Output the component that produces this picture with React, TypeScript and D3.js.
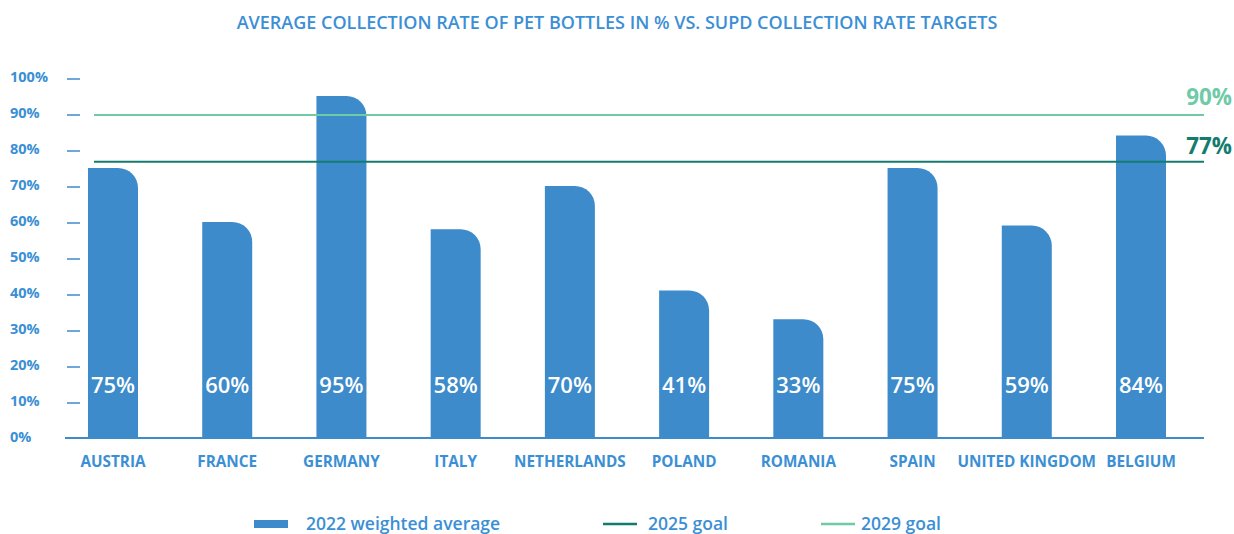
import React from "react";
import * as d3 from "d3";

const categories = ["AUSTRIA", "FRANCE", "GERMANY", "ITALY", "NETHERLANDS", "POLAND", "ROMANIA", "SPAIN", "UNITED KINGDOM", "BELGIUM"];
const values = [75, 60, 95, 58, 70, 41, 33, 75, 59, 84];
const goal2025 = 77;
const goal2029 = 90;
const yTicks = [0, 10, 20, 30, 40, 50, 60, 70, 80, 90, 100];
const title = "AVERAGE COLLECTION RATE OF PET BOTTLES IN % VS. SUPD COLLECTION RATE TARGETS";
const legendLabels = ["2022 weighted average", "2025 goal", "2029 goal"];

const W = 1234;
const H = 534;
const BLUE = "#3d8bcb";
const TEXT = "#3b8fd4";
const DARK = "#137c6e";
const LIGHT = "#6fcaa6";
const FONT = "'Open Sans', sans-serif";

function barPath(x0: number, x1: number, yTop: number, yBase: number, r: number) {
  const p = d3.path();
  p.moveTo(x0, yBase);
  p.lineTo(x0, yTop);
  p.lineTo(x1 - r, yTop);
  p.arcTo(x1, yTop, x1, yTop + r, r);
  p.lineTo(x1, yBase);
  p.closePath();
  return p.toString();
}

export default function App() {
  const x = d3.scalePoint<string>().domain(categories).range([113, 1141]);
  const y = d3.scaleLinear().domain([0, 100]).range([438, 78]);
  const bw = 50;
  return (
    <svg width={W} height={H} style={{ position: "absolute", left: 0, top: 0, background: "#fff" }} fontFamily={FONT}>
      <text x={617} y={29} textAnchor="middle" fill={TEXT} fontSize={18} fontWeight={600}>{title}</text>
      {yTicks.map((t) => (
        <g key={t}>
          <text x={10} y={y(t) + 4} fill={TEXT} fontSize={14.5} fontWeight={700}>{t}%</text>
          {t > 0 && <line x1={67} x2={80} y1={y(t) + 1} y2={y(t) + 1} stroke={BLUE} strokeWidth={1.5} />}
        </g>
      ))}
      {categories.map((c, i) => {
        const cx = x(c)!;
        return (
          <g key={c}>
            <path d={barPath(cx - bw / 2, cx + bw / 2, y(values[i]), y(0), 20)} fill={BLUE} />
            <text x={cx} y={393} textAnchor="middle" fill="#fff" fontSize={22} fontWeight={600}>{values[i]}%</text>
            <text x={cx} y={467} textAnchor="middle" fill={TEXT} fontSize={15.3} fontWeight={700}>{c}</text>
          </g>
        );
      })}
      <line x1={65} x2={1204} y1={y(0)} y2={y(0)} stroke={BLUE} strokeWidth={2} />
      <line x1={94} x2={1204} y1={y(goal2029) + 1} y2={y(goal2029) + 1} stroke={LIGHT} strokeWidth={2} />
      <line x1={94} x2={1204} y1={y(goal2025) + 1} y2={y(goal2025) + 1} stroke={DARK} strokeWidth={2} />
      <text x={1232} y={105} textAnchor="end" fill={LIGHT} fontSize={22.4} fontWeight={700}>{goal2029}%</text>
      <text x={1232} y={154} textAnchor="end" fill={DARK} fontSize={22.4} fontWeight={700}>{goal2025}%</text>
      <rect x={254} y={520} width={34} height={8} fill={BLUE} />
      <text x={306} y={530} fill={TEXT} fontSize={17.5} fontWeight={600}>{legendLabels[0]}</text>
      <line x1={603} x2={637} y1={524} y2={524} stroke={DARK} strokeWidth={2.5} />
      <text x={648} y={530} fill={TEXT} fontSize={17.5} fontWeight={600}>{legendLabels[1]}</text>
      <line x1={821} x2={855} y1={524} y2={524} stroke={LIGHT} strokeWidth={2.5} />
      <text x={861} y={530} fill={TEXT} fontSize={17.5} fontWeight={600}>{legendLabels[2]}</text>
    </svg>
  );
}
